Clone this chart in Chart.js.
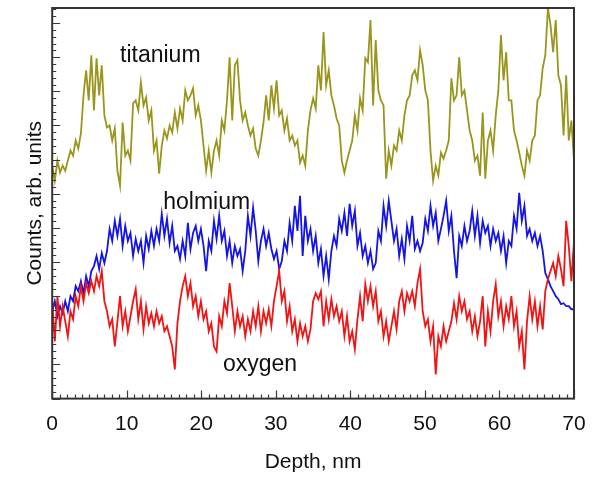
<!DOCTYPE html>
<html><head><meta charset="utf-8">
<script src="https://cdn.jsdelivr.net/npm/chart.js@4.4.1/dist/chart.umd.min.js"></script>
<style>html,body{margin:0;padding:0;background:#fff}#wrap{width:599px;height:483px}</style>
</head><body><div id="wrap"><canvas id="c" width="599" height="483"></canvas></div>
<script>
// Depth sampling grid (nm)
const depthStep = 0.35;
const depth = Array.from({length: 201}, (_, i) => +(i * depthStep).toFixed(2));
const xTickValues = [0, 10, 20, 30, 40, 50, 60, 70];

// Counts, arbitrary units
const titanium = [232,217,237,225,232,227,237,247,242,257,
249,264,302,327,297,342,287,339,302,332,
282,270,272,257,269,227,212,275,242,247,
237,294,297,287,315,292,300,277,287,247,
257,224,252,267,259,272,265,285,269,289,
277,307,297,302,309,282,292,277,252,227,
247,225,247,257,242,277,267,297,340,277,
332,337,297,277,285,272,262,269,249,242,
257,275,302,277,312,289,317,282,287,267,
279,257,262,252,257,235,242,232,267,287,
299,289,332,307,365,312,327,302,292,279,
272,237,225,237,247,257,282,267,299,287,
339,335,377,292,357,307,297,292,219,247,
232,252,247,267,257,282,297,302,322,327,
317,347,332,307,297,247,217,232,222,245,
239,247,257,319,297,302,340,302,307,287,
267,257,237,242,222,285,219,257,267,247,
282,307,362,317,345,297,297,267,257,245,
232,222,247,237,257,262,297,302,329,342,
389,372,345,377,322,312,262,322,257,277,
237];

const holmium = [87,97,82,92,85,97,87,102,97,112,
107,117,105,122,112,127,132,142,129,145,
135,147,169,157,177,162,179,152,172,157,
165,142,159,147,157,135,162,149,167,152,
169,157,184,162,179,155,172,147,152,139,
157,142,175,149,165,172,157,169,152,127,
157,147,177,159,182,157,167,142,157,135,
152,142,149,127,147,182,162,190,167,137,
157,169,152,165,149,139,147,129,137,157,
147,175,157,192,167,202,142,182,157,169,
147,162,135,149,122,142,119,147,162,152,
179,167,185,162,194,172,187,152,165,142,
152,135,147,129,135,167,157,192,172,197,
177,157,169,142,159,139,172,157,182,149,
157,147,155,179,167,192,172,185,157,169,
182,197,167,182,147,120,162,152,172,157,
167,187,162,182,155,177,165,172,152,169,
157,165,147,162,135,157,152,182,169,205,
177,192,162,169,157,165,152,162,147,125,
119,112,107,102,99,94,95,92,92,89,
89];

const oxygen = [97,57,102,72,92,77,62,87,79,102,
92,112,97,115,105,117,107,122,112,127,
97,87,72,79,52,77,102,72,87,67,
82,97,109,79,97,69,92,75,85,72,
87,75,82,67,72,62,52,29,75,97,
112,122,102,115,92,102,82,97,79,87,
67,75,52,47,82,72,97,85,115,92,
67,87,72,82,62,79,67,87,72,92,
67,87,75,89,72,97,112,127,97,107,
77,92,67,79,57,75,62,72,57,69,
97,105,99,107,72,97,79,99,82,92,
77,87,62,82,57,67,49,79,102,77,
114,97,112,92,107,77,87,62,77,57,
72,87,69,97,107,87,105,97,107,92,
115,129,87,72,79,57,72,24,62,52,
72,57,67,77,95,79,102,87,97,79,
87,67,82,62,77,102,52,87,67,97,
114,82,97,72,92,79,102,72,87,52,
67,29,77,102,79,97,72,92,69,107,
119,127,135,122,142,129,112,177,152,117,
157];

const seriesNames = ['titanium', 'holmium', 'oxygen'];
const seriesColors = ['#9a951c', '#1414e6', '#f01414'];

// label anchors (data coordinates)
const nameAnchors = [
  {x: 9.1, y: 335},
  {x: 14.9, y: 189},
  {x: 22.9, y: 27}
];

const yMax = 389, yMinorStep = 6.8, yMajorEvery = 5;
const FONT = '"Liberation Sans", Arial, Helvetica, sans-serif';

const toPts = arr => arr.map((v, i) => ({x: depth[i], y: v}));

const framePlugin = {
  id: 'frame',
  afterDatasetsDraw(chart) {
    const {ctx, chartArea: a, scales: {x, y}} = chart;
    ctx.save();
    ctx.strokeStyle = '#3a3a3a';
    ctx.lineWidth = 1.2;
    ctx.beginPath();
    for (let i = 0; i <= 70; i++) {
      const px = Math.round(x.getPixelForValue(i)) + 0.5;
      const L = i % 10 === 0 ? 8 : 4;
      ctx.moveTo(px, a.bottom); ctx.lineTo(px, a.bottom - L);
    }
    for (let k = 0; k * yMinorStep <= yMax; k++) {
      const py = Math.round(y.getPixelForValue(k * yMinorStep)) + 0.5;
      const L = k % yMajorEvery === 0 ? 8 : 4;
      ctx.moveTo(a.left, py); ctx.lineTo(a.left + L, py);
    }
    ctx.stroke();
    ctx.lineWidth = 2;
    ctx.strokeStyle = '#333';
    ctx.strokeRect(a.left, a.top, a.right - a.left, a.bottom - a.top);
    ctx.fillStyle = '#111';
    ctx.font = '23px ' + FONT;
    ctx.textBaseline = 'alphabetic';
    ctx.textAlign = 'left';
    seriesNames.forEach((n, i) => {
      ctx.fillText(n, x.getPixelForValue(nameAnchors[i].x), y.getPixelForValue(nameAnchors[i].y));
    });
    ctx.restore();
  }
};

new Chart(document.getElementById('c'), {
  type: 'line',
  data: {
    datasets: [
      {label: seriesNames[2], data: toPts(oxygen), borderColor: seriesColors[2], order: 0},
      {label: seriesNames[1], data: toPts(holmium), borderColor: seriesColors[1], order: 1},
      {label: seriesNames[0], data: toPts(titanium), borderColor: seriesColors[0], order: 2}
    ].map(d => Object.assign(d, {borderWidth: 1.8, pointRadius: 0, tension: 0, fill: false}))
  },
  options: {
    responsive: false,
    animation: false,
    events: [],
    layout: {padding: {left: 23, right: 25, top: 8, bottom: 4}},
    plugins: {legend: {display: false}, tooltip: {enabled: false}},
    scales: {
      x: {
        type: 'linear', min: 0, max: 70,
        afterBuildTicks: s => { s.ticks = xTickValues.map(v => ({value: v})); },
        grid: {display: false}, border: {display: false},
        ticks: {color: '#111', font: {family: FONT, size: 21}, padding: 5, maxRotation: 0},
        title: {display: true, text: 'Depth, nm', color: '#111', font: {family: FONT, size: 21}, padding: {top: 8, bottom: 4}}
      },
      y: {
        min: 0, max: yMax,
        grid: {display: false}, border: {display: false},
        ticks: {display: false},
        title: {display: true, text: 'Counts, arb. units', color: '#111', font: {family: FONT, size: 21}, padding: {top: 0, bottom: -4}}
      }
    }
  },
  plugins: [framePlugin]
});
</script></body></html>
